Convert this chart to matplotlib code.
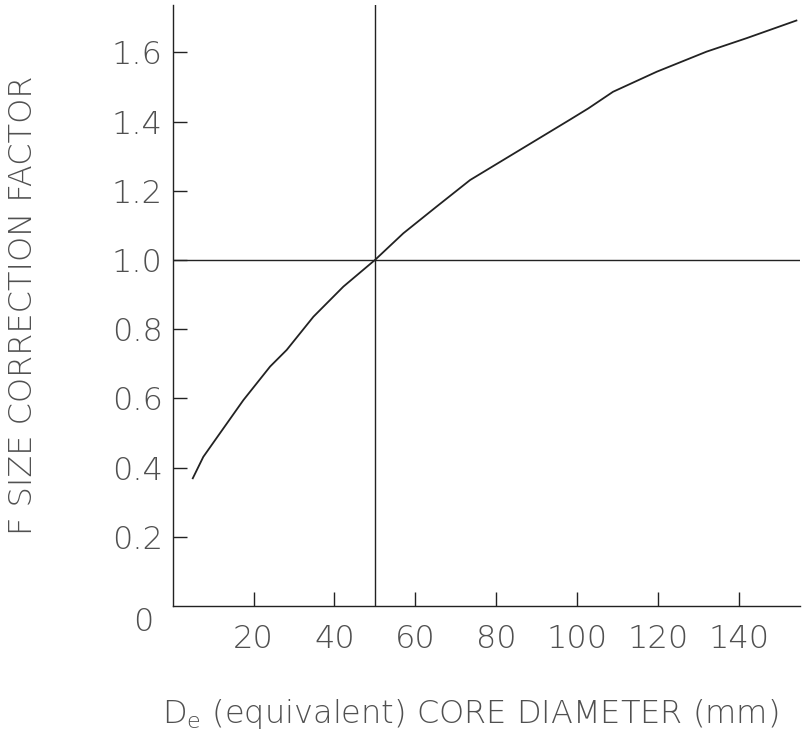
import numpy as np
import matplotlib
matplotlib.use("Agg")
import matplotlib.pyplot as plt

# core diameter (mm) and size correction factor
diameter = [5.0, 7.6, 11.7, 17.5, 24.1, 28.2, 34.8, 42.2, 50.0, 57.0, 65.2,
            73.5, 81.7, 89.9, 98.1, 102.7, 108.8, 119.6, 131.9, 141.8, 154.1]
factor = [0.369, 0.431, 0.499, 0.595, 0.692, 0.740, 0.836, 0.923, 1.0, 1.077, 1.154,
          1.231, 1.289, 1.347, 1.405, 1.438, 1.486, 1.544, 1.602, 1.641, 1.692]

x_ticks = [20, 40, 60, 80, 100, 120, 140]
y_ticks = [0.2, 0.4, 0.6, 0.8, 1.0, 1.2, 1.4, 1.6]
ref_diameter = 50
ref_factor = 1.0

plt.rcParams["font.family"] = ["DejaVu Sans"]
plt.rcParams["font.weight"] = "light"
plt.rcParams["axes.labelweight"] = "light"

txt = "#505050"
ln = "#222222"

fig = plt.figure(figsize=(8.04, 7.38), dpi=100)
ax = fig.add_axes([0.2146, 0.1789, 0.7805, 0.8144])

ax.plot(diameter, factor, color=ln, lw=1.3)
ax.axhline(ref_factor, color=ln, lw=1.0)
ax.axvline(ref_diameter, color=ln, lw=1.0)

ax.set_xlim(0, 155)
ax.set_ylim(0, 1.737)
ax.set_xticks(x_ticks)
ax.set_yticks(y_ticks)
ax.set_yticklabels([f"{v:.1f}" for v in y_ticks])

for s in ["top", "right"]:
    ax.spines[s].set_visible(False)
for s in ["left", "bottom"]:
    ax.spines[s].set_color(ln)
    ax.spines[s].set_linewidth(1.0)

ax.tick_params(axis="both", direction="in", length=10, width=1.0, color=ln,
               labelsize=23, labelcolor=txt)
ax.tick_params(axis="x", pad=13)
ax.tick_params(axis="y", pad=7)

ax.text(-0.03, -0.027, "0", transform=ax.transAxes, ha="right", va="center",
        fontsize=23, color=txt)

ax.set_xlabel(r"D$_\mathrm{e}$ (equivalent) CORE DIAMETER (mm)", fontsize=23,
              color=txt)
ax.xaxis.set_label_coords(0.474, -0.152)
ax.set_ylabel("F SIZE CORRECTION FACTOR", fontsize=23, color=txt)
ax.yaxis.set_label_coords(-0.215, 0.5)

fig.savefig("out.png", dpi=100)
